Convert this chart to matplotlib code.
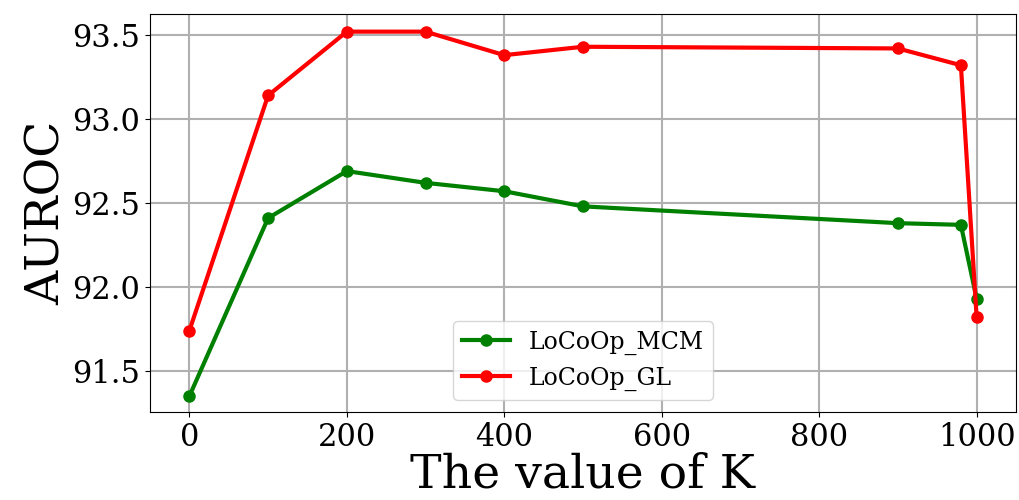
import matplotlib
matplotlib.use("Agg")
import matplotlib.pyplot as plt

k_values = [0, 100, 200, 300, 400, 500, 900, 980, 1000]
mcm = [91.35, 92.41, 92.69, 92.62, 92.57, 92.48, 92.38, 92.37, 91.93]
gl = [91.74, 93.14, 93.52, 93.52, 93.38, 93.43, 93.42, 93.32, 91.82]

plt.rcParams['font.family'] = ['DejaVu Serif']
fig = plt.figure(figsize=(10.19, 5.0), dpi=100)
ax = fig.add_axes([150/1019, 1 - 412/500, (1016-150)/1019, (412-14)/500])

ax.plot(k_values, mcm, color='green', marker='o', linewidth=3, markersize=8, label='LoCoOp_MCM')
ax.plot(k_values, gl, color='red', marker='o', linewidth=3, markersize=8, label='LoCoOp_GL')

ax.set_xlim(-50, 1050)
ax.set_ylim(91.256, 93.625)
ax.set_xticks([0, 200, 400, 600, 800, 1000])
ax.set_yticks([91.5, 92.0, 92.5, 93.0, 93.5])
ax.grid(True, color='#b0b0b0', linewidth=1.5)
ax.set_axisbelow(True)
ax.tick_params(labelsize=22)
ax.set_xlabel('The value of K', fontsize=34, labelpad=0)
ax.set_ylabel('AUROC', fontsize=34, labelpad=2)
ax.legend(loc='lower center', fontsize=17)

fig.savefig('out.png', dpi=100)
